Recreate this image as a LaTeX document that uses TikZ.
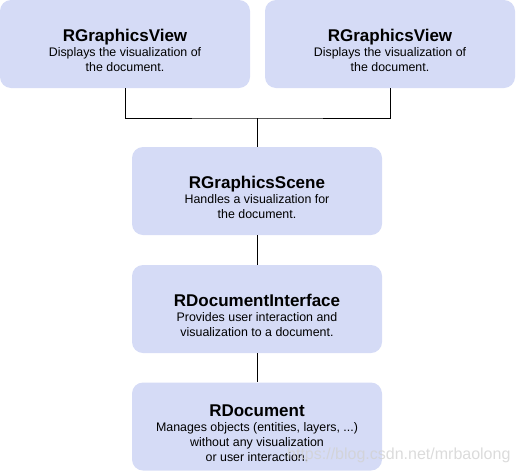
\documentclass[tikz,border=0pt]{standalone}
\usepackage{fontspec}
\setmainfont{Liberation Sans}
\usepackage{tikz}
\usetikzlibrary{positioning}
\usepackage{xcolor}
\definecolor{boxfill}{RGB}{213,219,246}
\newcommand{\boxtitle}[1]{{\fontsize{17}{15}\selectfont\bfseries\rule{0pt}{25pt}#1}}

\begin{document}
\begin{tikzpicture}[x=1pt,y=-1pt,
  layer/.style={fill=boxfill,draw=none,rounded corners=11pt,minimum width=250pt,
    minimum height=88pt,align=center,inner sep=0pt,
    font=\fontsize{12.4}{15}\selectfont},
  link/.style={black,line width=0.9pt}]
  \useasboundingbox (0,0) rectangle (516,472);

  % views
  \node[layer] (viewA) at (125,44) {\boxtitle{RGraphicsView}\\Displays the visualization of\\the document.};
  \node[layer] (viewB) at (390,44) {\boxtitle{RGraphicsView}\\Displays the visualization of\\the document.};

  % scene, interface, document
  \node[layer] (scene) at (257,191) {\boxtitle{RGraphicsScene}\\Handles a visualization for\\the document.};
  \node[layer] (iface) at (257,309) {\boxtitle{RDocumentInterface}\\Provides user interaction and\\visualization to a document.};
  \node[layer] (doc) at (257,426.5) {\boxtitle{RDocument}\\Manages objects (entities, layers, ...)\\without any visualization\\or user interaction.};

  \coordinate (join) at (257,118);
  \draw[link] (viewA.south) |- (join) -| (viewB.south);
  \draw[link] (join) -- (scene.north);
  \draw[link] (scene) -- (iface);
  \draw[link] (iface) -- (doc);

  % watermark
  \node[anchor=base west,inner sep=0pt,text=gray!35,opacity=0.8,font=\fontsize{16}{16}\selectfont] (mark) at (287,459) {https://blog.csdn.net/mrbaolong};
\end{tikzpicture}
\end{document}
